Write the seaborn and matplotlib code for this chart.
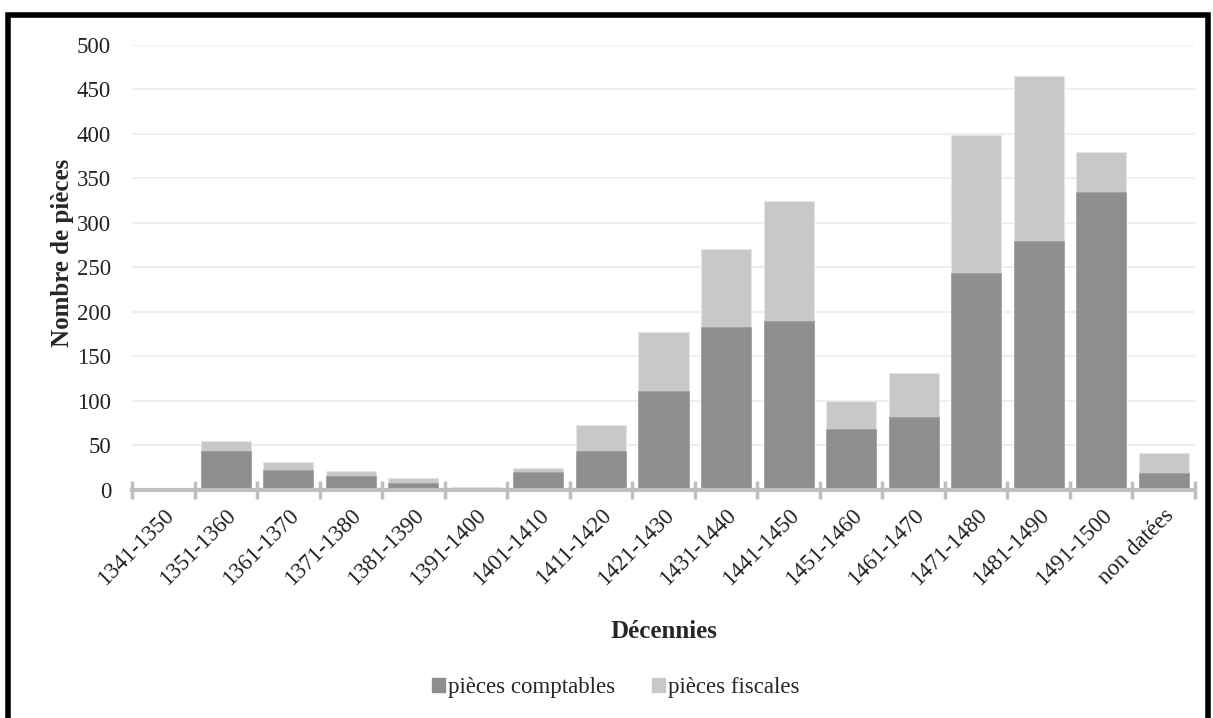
import pandas as pd
import seaborn as sns
import matplotlib.pyplot as plt
import matplotlib.patches as patches
import numpy as np

# Data
decennies = ["1341-1350", "1351-1360", "1361-1370", "1371-1380", "1381-1390",
             "1391-1400", "1401-1410", "1411-1420", "1421-1430", "1431-1440",
             "1441-1450", "1451-1460", "1461-1470", "1471-1480", "1481-1490",
             "1491-1500", "non datées"]
comptables = [0, 43, 22, 15, 7, 0, 20, 43, 111, 183, 189, 68, 82, 243, 279, 335, 19]
fiscales = [0, 12, 9, 6, 6, 3, 4, 30, 66, 88, 136, 31, 49, 156, 186, 45, 22]

df = pd.DataFrame({"decennie": decennies, "comptables": comptables, "fiscales": fiscales})
df["total"] = df["comptables"] + df["fiscales"]

sns.set_theme(style="white")
plt.rcParams["font.family"] = ["Liberation Serif", "DejaVu Serif"]

dark = "#8e8e8e"
light = "#c8c8c8"
axis_grey = "#bfbfbf"

fig = plt.figure(figsize=(12.13, 7.18), dpi=100)
ax = fig.add_axes([132 / 1213, 1 - 489.5 / 718, (1195 - 132) / 1213, (489.5 - 45) / 718])

# Stacked bars: totals first (light), then the lower series on top (dark)
sns.barplot(data=df, x="decennie", y="total", color=light, saturation=1,
            width=0.8, edgecolor="#e6e6e6", linewidth=0.8, ax=ax, zorder=2)
sns.barplot(data=df, x="decennie", y="comptables", color=dark, saturation=1,
            width=0.8, edgecolor="#a0a0a0", linewidth=0.5, ax=ax, zorder=3)

ax.set_ylim(0, 500)
ax.set_xlim(-0.5, len(decennies) - 0.5)
ax.set_yticks(np.arange(0, 501, 50))
ax.yaxis.grid(True, color="#efefef", linewidth=1.5, zorder=0)
ax.set_axisbelow(True)

for s in ["top", "right", "left"]:
    ax.spines[s].set_visible(False)
ax.spines["bottom"].set_color(axis_grey)
ax.spines["bottom"].set_linewidth(3)
ax.spines["bottom"].set_zorder(4)

ax.set_xticks(np.arange(len(decennies)))
ax.set_xticklabels(decennies, rotation=45, ha="right", rotation_mode="anchor")
ax.set_xticks(np.arange(-0.5, len(decennies)), minor=True)
ax.tick_params(axis="x", which="major", length=0, pad=11, labelsize=16.5, labelcolor="#222222")
ax.tick_params(axis="x", which="minor", direction="inout", length=13, width=2.5,
               color=axis_grey, bottom=True)
ax.tick_params(axis="y", length=0, pad=15, labelsize=16.5, labelcolor="#222222")

ax.set_xlabel("Décennies", fontsize=18, fontweight="bold")
ax.set_ylabel("Nombre de pièces", fontsize=18, fontweight="bold")
ax.xaxis.set_label_coords(0.5, -(620 - 489.5) / (489.5 - 45))
ax.yaxis.set_label_coords(-(132 - 74) / 1063, (489.5 - 253) / (489.5 - 45))

handles = [patches.Patch(color=dark, label="pièces comptables"),
           patches.Patch(color=light, label="pièces fiscales")]
fig.legend(handles=handles, loc="center", bbox_to_anchor=(616 / 1213, 1 - 688 / 718),
           ncol=2, frameon=False, fontsize=16.5, handlelength=0.55, handleheight=0.55,
           handletextpad=0.15, columnspacing=1.6)

# Black frame around the chart area
fig.add_artist(patches.Rectangle((7.5 / 1213, -0.1), (1207.5 - 7.5) / 1213, 1.1 - 15.5 / 718,
                                 transform=fig.transFigure, fill=False, edgecolor="black",
                                 linewidth=4, clip_on=False))

fig.savefig("out.png", dpi=100)
